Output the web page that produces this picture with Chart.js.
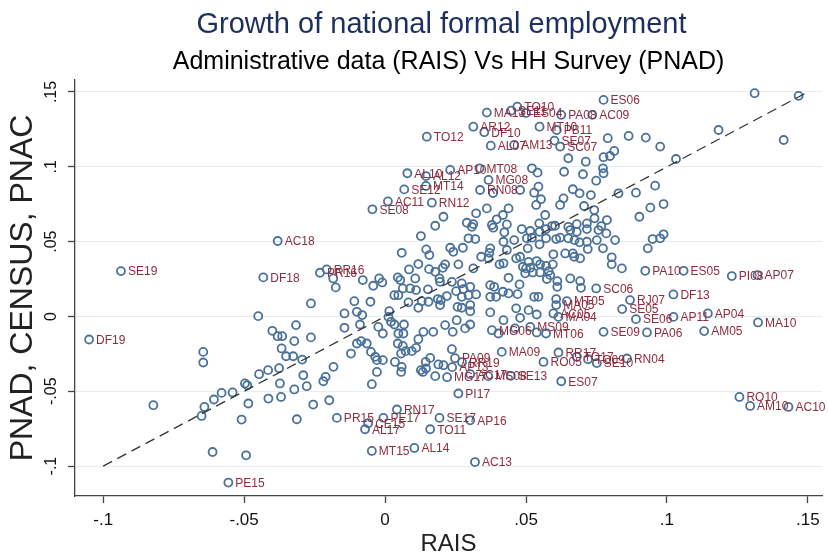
<!DOCTYPE html>
<html>
<head>
<meta charset="utf-8">
<script src="https://cdn.jsdelivr.net/npm/chart.js@4.4.1/dist/chart.umd.min.js"></script>
<style>
  html, body { margin: 0; padding: 0; background: #fff; }
  #wrap { width: 828px; height: 558px; }
</style>
</head>
<body>
<div id="wrap"><canvas id="c" width="828" height="558"></canvas></div>
<script>
// Axis ticks shared by both axes
const tickValues = [-0.1, -0.05, 0, 0.05, 0.1, 0.15];
const tickText = ['-.1', '-.05', '0', '.05', '.1', '.15'];

// 45-degree reference line (RAIS = PNAD)
const refLine = [-0.1, 0.15];

const chartTitle = 'Growth of national formal employment';
const chartSubtitle = 'Administrative data (RAIS) Vs HH Survey (PNAD)';

// Observations identified by state + year
const codes = ['SE19','DF19','DF18','AC18','PR16','RR16','SE08','AC11','SE12','AL10','AL12','MT14','TO12','RN12','AP10','MT08','MG08','RN08','AR12','DF10','MA13','AL07','SE11','TO10','ES04','PA08','AC09','ES06','MT10','PB11','AM13','SE07','SC07','PA10','ES05','PI08','AP07','DF13','RJ07','SE05','SE06','AP11','AP04','MA10','AM05','PA06','SE09','RN04','RO10','AM10','AC10','SE13','ES07','PI17','SE17','AP16','TO11','AL14','AC13','MT15','AL17','CE15','PE17','RN17','PR15','PE15','SC06','MA09','RR17','RO05','TO17','SE10','TO09','MS09','MT06','MG06','MT05','MA05','AC05','MA04','PA09','RR19','AP13','MG17','AC17','MS08'];
const codeRais = [-0.0937,-0.1050,-0.0432,-0.0381,-0.0231,-0.0207,-0.0045,0.0010,0.0068,0.0079,0.0145,0.0145,0.0148,0.0166,0.0231,0.0335,0.0367,0.0337,0.0313,0.0352,0.0361,0.0375,0.0447,0.0469,0.0500,0.0625,0.0735,0.0775,0.0548,0.0609,0.0458,0.0601,0.0621,0.0923,0.1059,0.1230,0.1321,0.1023,0.0869,0.0841,0.0890,0.1023,0.1145,0.1323,0.1132,0.0929,0.0775,0.0858,0.1257,0.1295,0.1431,0.0446,0.0625,0.0260,0.0193,0.0302,0.0160,0.0104,0.0319,-0.0047,-0.0071,-0.0060,-0.0006,0.0042,-0.0171,-0.0556,0.0749,0.0414,0.0615,0.0562,0.0680,0.0751,0.0720,0.0515,0.0571,0.0379,0.0645,0.0607,0.0597,0.0615,0.0248,0.0273,0.0238,0.0220,0.0302,0.0366];
const codePnad = [0.0303,-0.0154,0.0261,0.0504,0.0292,0.0314,0.0716,0.0769,0.0849,0.0957,0.0938,0.0872,0.1201,0.0760,0.0979,0.0990,0.0912,0.0845,0.1268,0.1231,0.1362,0.1141,0.1375,0.1402,0.1360,0.1347,0.1347,0.1447,0.1268,0.1246,0.1146,0.1175,0.1135,0.0305,0.0305,0.0270,0.0276,0.0147,0.0109,0.0049,-0.0018,-0.0003,0.0020,-0.0040,-0.0098,-0.0107,-0.0103,-0.0281,-0.0538,-0.0598,-0.0605,-0.0397,-0.0433,-0.0515,-0.0678,-0.0694,-0.0754,-0.0879,-0.0973,-0.0899,-0.0754,-0.0714,-0.0678,-0.0622,-0.0678,-0.1110,0.0187,-0.0237,-0.0241,-0.0304,-0.0270,-0.0312,-0.0286,-0.0070,-0.0114,-0.0092,0.0102,0.0076,0.0020,-0.0003,-0.0279,-0.0306,-0.0339,-0.0406,-0.0386,-0.0399];

// Remaining observations (growth rates, RAIS vs PNAD)
const rais = [-0.0645,-0.0645,-0.0450,-0.0822,-0.0651,-0.0641,-0.0607,-0.0580,-0.0541,-0.0497,-0.0489,-0.0485,-0.0509,-0.0612,-0.0493,-0.0447,-0.0415,-0.0376,-0.0373,-0.0290,-0.0211,-0.0219,-0.0278,-0.0322,-0.0414,-0.0369,-0.0255,-0.0198,-0.0313,-0.0047,-0.0029,0.0057,0.0134,0.0178,
  0.0178,0.0127,0.0059,0.0146,0.0157,0.0118,0.0085,0.0156,0.0178,0.0193,0.0045,0.0054,-0.0021,-0.0042,-0.0010,-0.0079,-0.0184,-0.0175,0.0107,0.0089,0.0110,0.0152,0.0063,0.0047,0.0033,0.0130,0.0154,0.0187,0.0195,0.0118,0.0083,-0.0052,-0.0109,-0.0263,-0.0144,-0.0100,-0.0081,-0.0089,-0.0144,
  -0.0400,-0.0381,-0.0365,-0.0316,-0.0322,-0.0263,-0.0367,-0.0351,-0.0326,-0.0294,-0.0183,-0.0121,-0.0100,-0.0085,-0.0065,-0.0050,-0.0035,-0.0029,-0.0008,
  0.0015,0.0012,0.0021,0.0033,0.0067,-0.0024,-0.0008,0.0047,0.0065,0.0136,0.0171,0.0118,0.0045,0.0063,0.0073,0.0095,0.0110,0.0057,0.0035,0.0059,0.0144,0.0160,0.0145,0.0189,0.0127,
  0.0207,0.0383,0.0479,0.0790,0.0650,0.0712,0.0775,0.0798,0.0813,0.0773,0.0775,0.0702,0.0635,0.0749,0.0828,0.0666,0.0690,0.0730,0.0633,0.0621,0.0706,0.0742,0.0743,0.0521,0.0541,0.0544,0.0529,0.0553,0.0536,0.0568,0.0547,0.0592,0.0650,0.0680,0.0716,0.0767,0.0787,0.0438,0.0418,0.0396,0.0379,0.0432,0.0361,0.0323,0.0313,0.0290,
  0.1311,0.1467,0.1183,0.1414,0.0864,0.0925,0.0976,0.1032,0.0890,0.0958,0.0941,0.0988,0.0902,0.0988,0.0976,0.0949,0.0932,
  0.0308,0.0384,0.0423,0.0485,0.0515,0.0548,0.0571,0.0603,0.0657,0.0680,0.0716,0.0757,0.0785,0.0816,0.0296,0.0320,0.0420,0.0458,0.0503,0.0521,0.0571,0.0607,0.0621,0.0650,0.0672,0.0690,0.0716,0.0751,
  0.0231,0.0242,0.0276,0.0373,0.0370,0.0432,0.0506,0.0548,0.0597,0.0639,0.0666,0.0671,0.0692,0.0719,0.0773,0.0804,0.0804,0.0840,
  0.0341,0.0367,0.0406,0.0420,0.0465,0.0479,0.0509,0.0538,0.0550,0.0571,0.0595,0.0489,0.0500,0.0515,0.0497,0.0524,0.0550,0.0580,0.0586,0.0574,0.0611,0.0611,0.0657,0.0692,0.0695,
  0.0205,0.0213,0.0260,0.0313,0.0195,0.0237,0.0272,0.0278,0.0252,0.0302,0.0323,0.0296,0.0272,0.0257,0.0272,0.0302,0.0302,0.0219,0.0198,
  0.0373,0.0387,0.0373,0.0394,0.0418,0.0438,0.0470,0.0477,0.0438,0.0529,0.0544,0.0607,0.0373,0.0420,0.0465,0.0479,0.0509,0.0538,
  0.0213,0.0254,0.0240,0.0284,0.0302,0.0402,0.0461,0.0538,0.0237,0.0207];
const pnad = [-0.0237,-0.0308,0.0002,-0.0593,-0.0665,-0.0605,-0.0555,-0.0511,-0.0508,-0.0448,-0.0460,-0.0582,-0.0689,-0.0906,-0.0928,-0.0386,-0.0359,-0.0346,-0.0448,-0.0393,-0.0404,-0.0433,-0.0466,-0.0488,-0.0549,-0.0538,-0.0589,-0.0560,-0.0687,-0.0453,-0.0371,-0.0371,-0.0371,-0.0399,
  0.0606,0.0537,0.0425,0.0448,0.0410,0.0350,0.0314,0.0316,0.0298,0.0254,0.0261,0.0243,0.0254,0.0205,0.0227,0.0243,0.0254,0.0194,0.0254,0.0187,0.0176,0.0181,0.0187,0.0142,0.0142,0.0102,0.0098,0.0116,0.0076,0.0058,0.0094,0.0098,0.0102,0.0087,0.0020,0.0031,0.0009,-0.0054,-0.0076,
  -0.0096,-0.0132,-0.0132,-0.0058,-0.0165,-0.0140,-0.0214,-0.0266,-0.0266,-0.0288,-0.0337,-0.0248,-0.0181,-0.0165,-0.0181,-0.0237,-0.0270,-0.0292,-0.0292,
  0.0035,-0.0003,-0.0036,-0.0054,-0.0054,-0.0070,-0.0114,-0.0114,-0.0114,-0.0103,-0.0103,-0.0152,-0.0181,-0.0197,-0.0232,-0.0232,-0.0210,-0.0248,-0.0304,-0.0337,-0.0304,-0.0277,-0.0348,-0.0321,-0.0359,
  0.0666,0.0825,0.0845,0.1191,0.1057,0.1034,0.1064,0.1072,0.1106,0.0990,0.0957,0.0950,0.0967,0.0907,0.0823,0.0850,0.0823,0.0811,0.0789,0.0745,0.0738,0.0711,0.0656,0.0990,0.0961,0.0867,0.0827,0.0783,0.0745,0.0678,0.0622,0.0604,0.0599,0.0617,0.0622,0.0604,0.0644,0.0722,0.0678,0.0649,0.0611,0.0615,0.0722,0.0689,0.0617,0.0626,
  0.1492,0.1474,0.1246,0.1179,0.1206,0.1195,0.1135,0.1052,0.0827,0.0874,0.0727,0.0751,0.0666,0.0549,0.0522,0.0517,0.0455,
  0.0599,0.0593,0.0562,0.0584,0.0571,0.0566,0.0584,0.0606,0.0577,0.0566,0.0584,0.0577,0.0555,0.0510,0.0522,0.0517,0.0499,0.0510,0.0522,0.0526,0.0522,0.0517,0.0526,0.0522,0.0510,0.0495,0.0499,0.0510,
  0.0459,0.0432,0.0459,0.0455,0.0425,0.0444,0.0455,0.0482,0.0415,0.0421,0.0421,0.0399,0.0388,0.0450,0.0455,0.0395,0.0348,0.0321,
  0.0399,0.0388,0.0348,0.0355,0.0388,0.0399,0.0365,0.0370,0.0348,0.0338,0.0348,0.0332,0.0321,0.0325,0.0288,0.0294,0.0294,0.0303,0.0276,0.0250,0.0236,0.0198,0.0254,0.0236,0.0191,
  0.0325,0.0348,0.0348,0.0321,0.0231,0.0231,0.0221,0.0183,0.0169,0.0198,0.0147,0.0142,0.0131,0.0064,0.0058,0.0076,0.0035,0.0136,0.0109,
  0.0209,0.0198,0.0131,0.0131,0.0165,0.0154,0.0149,0.0214,0.0258,0.0131,0.0131,0.0116,0.0027,-0.0025,0.0054,-0.0009,0.0042,0.0013,
  -0.0058,-0.0025,-0.0103,-0.0080,-0.0054,-0.0114,-0.0080,-0.0107,-0.0219,-0.0326];

const markerColor = '#4a7199';
const codeColor = '#8e2c3c';
const fontFamily = '"Liberation Sans", Arial, Helvetica, sans-serif';

const pts = (xs, ys) => xs.map((v, i) => ({ x: v, y: ys[i] }));

// Writes each state-year code to the right of its marker
const codeLabels = {
  id: 'codeLabels',
  afterDatasetsDraw(chart) {
    const meta = chart.getDatasetMeta(2);
    const ctx = chart.ctx;
    ctx.save();
    ctx.font = '12px ' + fontFamily;
    ctx.fillStyle = codeColor;
    ctx.textAlign = 'left';
    ctx.textBaseline = 'middle';
    meta.data.forEach((el, i) => ctx.fillText(codes[i], el.x + 7, el.y + 1));
    ctx.restore();
  }
};

// Title and subtitle above the plot region
const headings = {
  id: 'headings',
  afterDraw(chart) {
    const ctx = chart.ctx;
    const mid = (chart.chartArea.left + chart.chartArea.right) / 2;
    ctx.save();
    ctx.textAlign = 'center';
    ctx.textBaseline = 'alphabetic';
    ctx.fillStyle = '#1d2f5e';
    ctx.font = '29px ' + fontFamily;
    ctx.fillText(chartTitle, mid - 7, 33);
    ctx.fillStyle = '#000';
    ctx.font = '25px ' + fontFamily;
    ctx.fillText(chartSubtitle, mid, 69);
    ctx.restore();
  }
};

new Chart(document.getElementById('c'), {
  type: 'scatter',
  data: {
    datasets: [
      {
        type: 'line',
        data: refLine.map(v => ({ x: v, y: v })),
        borderColor: '#333',
        borderWidth: 1.3,
        borderDash: [10, 6],
        pointRadius: 0,
        fill: false
      },
      {
        data: pts(rais, pnad),
        pointStyle: 'circle',
        pointRadius: 4,
        borderWidth: 1.8,
        borderColor: markerColor,
        backgroundColor: 'rgba(0,0,0,0)'
      },
      {
        data: pts(codeRais, codePnad),
        pointStyle: 'circle',
        pointRadius: 4,
        borderWidth: 1.8,
        borderColor: markerColor,
        backgroundColor: 'rgba(0,0,0,0)'
      }
    ]
  },
  options: {
    responsive: false,
    animation: false,
    devicePixelRatio: 1,
    layout: { padding: { left: 0, right: 6, top: 80, bottom: 0 } },
    plugins: {
      legend: { display: false },
      tooltip: { enabled: false },
      title: { display: false },
      subtitle: { display: false }
    },
    scales: {
      x: {
        type: 'linear',
        min: -0.110,
        max: 0.155,
        afterBuildTicks: s => { s.ticks = tickValues.map(v => ({ value: v })); },
        afterFit: s => { s.height = 62; },
        ticks: {
          callback: (v, i) => tickText[i],
          color: '#111',
          font: { family: fontFamily, size: 17 },
          padding: 7,
          maxRotation: 0
        },
        grid: {
          drawOnChartArea: false,
          tickLength: 7,
          tickColor: '#444',
          tickWidth: 1.3
        },
        border: { color: '#444', width: 1.3 },
        title: {
          display: true,
          text: 'RAIS',
          color: '#222',
          font: { family: fontFamily, size: 24 },
          padding: { top: 0, bottom: -1 }
        }
      },
      y: {
        type: 'linear',
        min: -0.120,
        max: 0.158,
        afterBuildTicks: s => { s.ticks = tickValues.map(v => ({ value: v })); },
        afterFit: s => { s.width = 75; },
        ticks: {
          callback: (v, i) => tickText[i],
          color: '#111',
          font: { family: fontFamily, size: 16 },
          minRotation: 90,
          maxRotation: 90,
          crossAlign: 'center',
          padding: 3
        },
        grid: {
          color: '#e4eef2',
          lineWidth: 1,
          tickLength: 7,
          tickColor: '#444',
          tickWidth: 1.3
        },
        border: { color: '#444', width: 1.3 },
        title: {
          display: true,
          text: 'PNAD, CENSUS, PNAC',
          color: '#222',
          font: { family: fontFamily, size: 32 },
          padding: { top: 4, bottom: 0 }
        }
      }
    }
  },
  plugins: [codeLabels, headings]
});
</script>
</body>
</html>
